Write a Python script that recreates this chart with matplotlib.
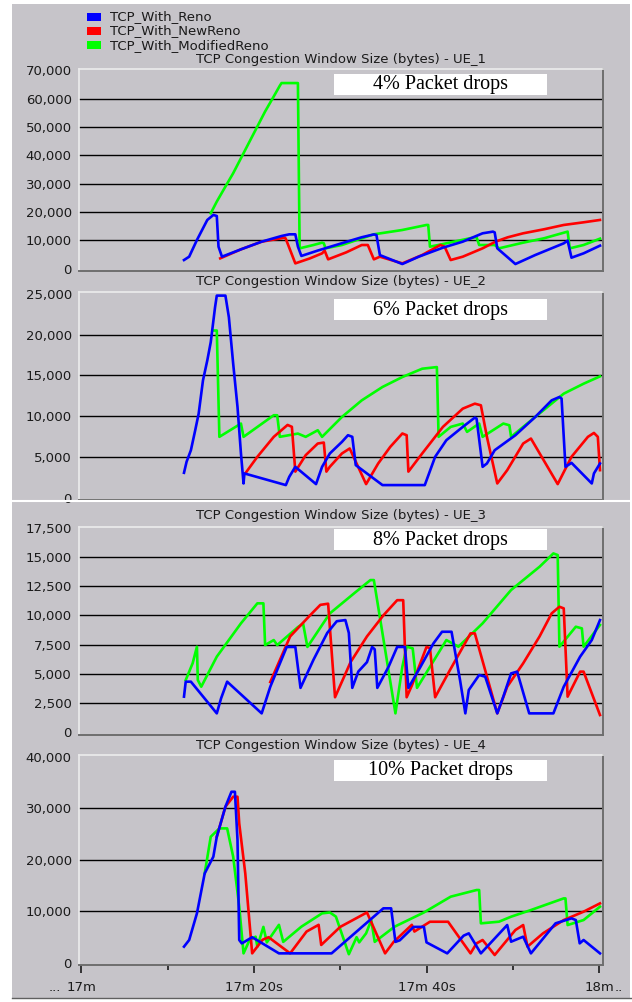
import matplotlib.pyplot as plt
from matplotlib.patches import Rectangle

# Time is in seconds after 17m; window sizes are in bytes.
SERIES_NAMES = ["TCP_With_Reno", "TCP_With_NewReno", "TCP_With_ModifiedReno"]
SERIES_COLORS = ["#0000ff", "#ff0000", "#00ff00"]
DROP_LABELS = ["4% Packet drops", "6% Packet drops", "8% Packet drops", "10% Packet drops"]
UE_NAMES = ["UE_1", "UE_2", "UE_3", "UE_4"]
Y_TICKS = [
    [0, 10000, 20000, 30000, 40000, 50000, 60000, 70000],
    [0, 5000, 10000, 15000, 20000, 25000],
    [0, 2500, 5000, 7500, 10000, 12500, 15000, 17500],
    [0, 10000, 20000, 30000, 40000],
]
Y_LIMITS = [(-810, 70460), (-280, 25280), (-230, 17585), (-290, 40330)]
X_TICKS = [0, 20, 40, 60]
X_MINOR = [10, 30, 50]
X_LABELS = ["17m", "17m 20s", "17m 40s", "18m"]

# UE_1, 4% drops
UE1_RENO_T = [11.9, 12.5, 13.4, 14.6, 15.3, 15.7, 15.9, 16.3, 18.5, 20.9, 23.2, 24.1, 24.8, 25.1, 25.5,
              27.4, 30.2, 32.5, 33.9, 34.2, 34.6, 37.2, 39.1, 41.9, 44.2, 46.5, 47.7, 47.9, 48.2,
              50.3, 52.6, 55.9, 56.35, 56.8, 58.2, 60.1]
UE1_RENO_W = [3060, 4240, 10130, 17200, 18970, 18600, 7770, 4240, 6830, 9540, 11540, 12130, 12130, 7800, 4500,
              6400, 9000, 11100, 12100, 11900, 4800, 1650, 4240, 7420, 9540, 12490, 13080, 12800, 7200,
              1650, 4830, 8950, 9900, 3890, 5420, 8130]
UE1_NEWRENO_T = [16.1, 18.5, 20.9, 23.6, 23.7, 24.8, 26.5, 27.9, 28.2, 28.6, 30.7, 32.5, 33.2, 33.9, 34.6,
                 37.2, 39.5, 41.6, 42.1, 42.8, 44.2, 46.5, 48.0, 49.4, 51.2, 53.6, 55.9, 58.2, 60.1]
UE1_NEWRENO_W = [3650, 6830, 9540, 10960, 10500, 1880, 3650, 5420, 6360, 3300, 5770, 8360, 8360, 3300, 4240,
                 1880, 4830, 8360, 7770, 3060, 4240, 7190, 9540, 11070, 12490, 13900, 15430, 16370, 17200]
UE1_MODRENO_T = [15.0, 15.7, 16.7, 17.6, 18.5, 19.5, 20.4, 21.3, 22.3, 23.0, 23.2, 25.1, 25.2, 25.3, 26.9,
                 27.9, 28.1, 28.3, 30.2, 32.5, 33.9, 37.2, 40.0, 40.2, 40.4, 41.9, 44.2, 45.6, 45.8, 46.1,
                 47.9, 48.4, 51.2, 53.6, 56.35, 56.6, 58.2, 60.1]
UE1_MODRENO_W = [19550, 23680, 28980, 33690, 38990, 44880, 50180, 55480, 60780, 64550, 65500, 65500, 36050, 7190, 8360,
                 9190, 8950, 7190, 8360, 10720, 12130, 13660, 15430, 15430, 7770, 8700, 10200, 11100, 11100, 8360,
                 8360, 7190, 9190, 10720, 13080, 7190, 8360, 10600]

# UE_2, 6% drops
UE2_RENO_T = [11.9, 12.2, 12.7, 13.2, 13.6, 14.1, 14.6, 15.0, 15.5, 15.7, 16.7, 17.1, 17.6, 18.1, 18.5,
              18.8, 18.9, 23.7, 24.1, 24.8, 27.2, 27.9, 28.8, 30.2, 30.9, 31.4, 31.8, 34.9, 39.8, 41.0,
              42.3, 44.2, 45.6, 45.8, 46.5, 47.0, 47.9, 50.3, 52.6, 54.5, 55.4, 55.65, 56.1, 56.8, 59.15,
              59.4, 60.1]
UE2_RENO_W = [3060, 4410, 5830, 8280, 10320, 14400, 16850, 19090, 23380, 24800, 24800, 22150, 16440, 11140, 5430,
              1750, 2980, 1550, 2570, 3790, 1670, 3790, 5430, 6850, 7670, 7470, 4000, 1550, 1550, 5020,
              7060, 8690, 9830, 9710, 3790, 4200, 5830, 7670, 9910, 11950, 12360, 12160, 3790, 4280, 1750,
              2980, 4200]
UE2_NEWRENO_T = [19.0, 20.4, 22.3, 23.9, 24.4, 24.8, 26.0, 27.4, 28.1, 28.4, 28.8, 30.2, 31.1, 33.0, 34.4,
                 35.8, 37.2, 37.7, 37.9, 39.5, 41.9, 44.2, 45.6, 46.3, 47.0, 48.2, 49.35, 51.2, 52.1, 55.2,
                 56.8, 58.7, 59.4, 59.85, 60.1]
UE2_NEWRENO_W = [2980, 5020, 7470, 8930, 8700, 3200, 5220, 6650, 6770, 3200, 3800, 5430, 6040, 1670, 4200,
                 6240, 7880, 7670, 3200, 5430, 8690, 10930, 11540, 11340, 7470, 1750, 3380, 6650, 7260, 1670,
                 5020, 7470, 7950, 7470, 3380]
UE2_MODRENO_T = [15.3, 15.7, 16.0, 18.5, 18.8, 22.3, 22.7, 23.0, 25.1, 26.0, 27.4, 27.9, 30.2, 32.5, 34.9,
                 37.2, 39.5, 41.2, 41.4, 42.8, 44.2, 44.7, 46.1, 46.5, 48.9, 49.6, 49.8, 52.6, 55.9, 58.2,
                 60.1]
UE2_MODRENO_W = [20520, 20520, 7470, 9100, 7470, 10120, 10120, 7470, 7870, 7470, 8280, 7470, 9910, 11950, 13590,
                 14810, 15830, 16030, 7470, 8690, 9100, 8080, 9100, 7470, 9100, 8890, 7470, 9910, 12770, 13990,
                 14890]

# UE_3, 8% drops
UE3_RENO_T = [11.9, 12.1, 12.7, 15.7, 16.2, 16.9, 20.9, 21.9, 23.8, 24.8, 25.4, 26.9, 28.5, 29.6, 30.6,
              31.0, 31.4, 32.1, 33.1, 33.7, 34.0, 34.3, 35.6, 36.6, 37.5, 37.9, 39.3, 40.8, 41.8, 42.9,
              43.9, 44.5, 44.9, 46.1, 46.8, 48.2, 48.9, 49.8, 50.5, 51.9, 54.7, 55.9, 57.8, 59.15, 60.1]
UE3_RENO_W = [3050, 4330, 4330, 1620, 2910, 4330, 1620, 3900, 7300, 7300, 3800, 6200, 8500, 9500, 9600,
              8500, 3800, 5200, 6000, 7300, 7100, 3800, 5600, 7300, 7300, 3800, 5600, 7600, 8600, 8600,
              4400, 1620, 3620, 4900, 4760, 1620, 3050, 5040, 5190, 1620, 1620, 3900, 6470, 7890, 9600]
UE3_NEWRENO_T = [21.9, 24.2, 26.5, 27.7, 28.6, 29.4, 31.2, 33.1, 35.0, 36.6, 37.3, 37.7, 38.3, 40.0, 40.4,
                 41.0, 42.7, 45.1, 45.6, 48.2, 49.35, 51.2, 53.1, 54.5, 55.4, 55.9, 56.35, 57.8, 58.2, 60.1]
UE3_NEWRENO_W = [4300, 8200, 10000, 10900, 11000, 3000, 6000, 8200, 10000, 11300, 11300, 3000, 4000, 7300, 7200,
                 3000, 5300, 8460, 8460, 1620, 3900, 5900, 8200, 10170, 10740, 10600, 3050, 5190, 5190, 1480]
UE3_MODRENO_T = [12.1, 12.9, 13.4, 13.5, 13.9, 15.7, 18.5, 20.4, 21.1, 21.3, 22.3, 22.7, 25.1, 25.7, 26.2,
                 28.8, 31.6, 33.5, 33.9, 36.4, 37.2, 37.7, 38.4, 38.9, 40.4, 42.3, 43.7, 46.5, 49.8, 53.1,
                 54.7, 55.2, 55.4, 57.3, 58.0, 58.2, 60.1]
UE3_MODRENO_W = [4470, 5900, 7320, 4470, 3900, 6470, 9320, 11030, 11030, 7460, 7890, 7460, 9000, 9300, 7300,
                 10170, 11880, 13020, 13020, 1620, 5600, 7320, 7180, 3800, 5600, 7890, 7320, 9320, 12170, 14160,
                 15300, 15160, 7320, 9030, 8890, 7320, 9180]

# UE_4, 10% drops
UE4_RENO_T = [11.9, 12.5, 13.4, 14.3, 15.3, 15.7, 16.7, 17.4, 17.8, 18.1, 18.3, 18.6, 19.8, 22.9, 29.0,
              35.0, 35.9, 36.4, 36.9, 38.5, 39.7, 40.0, 42.4, 44.3, 44.9, 46.3, 49.35, 49.8, 51.2, 52.1,
              54.95, 56.8, 57.3, 57.75, 58.2, 60.1]
UE4_RENO_W = [3170, 4460, 9630, 17380, 20610, 24480, 30300, 33200, 33200, 23840, 4460, 3800, 5000, 1870, 1870,
              10600, 10600, 4100, 4400, 7000, 7000, 4000, 1870, 5300, 5750, 1870, 7360, 4130, 5100, 1870,
              7690, 8660, 8330, 3810, 4460, 1870]
UE4_NEWRENO_T = [15.7, 16.7, 17.6, 18.1, 18.3, 19.0, 19.8, 21.0, 21.7, 24.2, 26.1, 27.5, 27.8, 30.0, 33.1,
                 35.2, 36.2, 38.3, 38.6, 40.4, 42.5, 45.1, 45.8, 46.5, 47.9, 50.3, 51.2, 51.7, 53.5,
                 55.9, 58.2, 60.1]
UE4_NEWRENO_W = [24480, 30300, 32240, 32240, 27070, 17380, 1870, 4500, 5000, 1870, 6100, 7400, 3500, 7000, 9800,
                 1870, 4100, 7400, 6100, 8000, 8000, 1870, 3810, 4460, 1550, 6400, 7360, 3170, 5750,
                 8330, 9950, 11560]
UE4_MODRENO_T = [14.3, 15.0, 16.0, 16.9, 17.6, 18.3, 18.8, 19.5, 20.2, 20.4, 21.1, 21.5, 22.9, 23.4, 25.5,
                 27.9, 28.8, 29.5, 31.0, 31.9, 32.2, 33.0, 33.6, 34.0, 36.3, 39.7, 42.8, 45.8, 46.1, 46.3,
                 48.4, 49.8, 52.1, 55.9, 56.1, 56.35, 58.2, 60.1]
UE4_MODRENO_W = [17380, 24480, 26100, 26100, 20610, 10920, 1870, 4460, 5100, 3170, 7000, 4000, 7400, 4100, 7040,
                 9630, 9800, 9000, 1700, 5000, 4000, 5750, 8300, 4100, 7040, 9800, 12860, 14150, 14150, 7690,
                 8010, 8980, 10270, 12530, 12530, 7360, 8330, 10920]

PANEL_SERIES = [
    [(UE1_RENO_T, UE1_RENO_W), (UE1_NEWRENO_T, UE1_NEWRENO_W), (UE1_MODRENO_T, UE1_MODRENO_W)],
    [(UE2_RENO_T, UE2_RENO_W), (UE2_NEWRENO_T, UE2_NEWRENO_W), (UE2_MODRENO_T, UE2_MODRENO_W)],
    [(UE3_RENO_T, UE3_RENO_W), (UE3_NEWRENO_T, UE3_NEWRENO_W), (UE3_MODRENO_T, UE3_MODRENO_W)],
    [(UE4_RENO_T, UE4_RENO_W), (UE4_NEWRENO_T, UE4_NEWRENO_W), (UE4_MODRENO_T, UE4_MODRENO_W)],
]

W, H = 632, 1002
BG = "#c6c4c9"
TXT = "#1a1a1a"
FS = 9.5
# plot boxes in pixels: (left, top, right, bottom)
BOXES = [(78.7, 69, 603, 271), (78.7, 291.7, 603, 500), (78.7, 526.7, 603, 735), (78.7, 755, 603, 964.5)]
TITLE_Y = [60, 282, 516, 746]
NOTE_BOXES = [74, 299, 529, 760]


def fx(px):
    return px / W


def fy(py):
    return 1 - py / H


def main():
    plt.rcParams["font.family"] = ["DejaVu Sans"]
    fig = plt.figure(figsize=(W / 100, H / 100), dpi=100, facecolor="white")

    # grey window background with a thin separator between the two screenshots
    fig.patches.append(Rectangle((fx(12), fy(998)), fx(630) - fx(12), fy(4) - fy(998),
                                 transform=fig.transFigure, facecolor=BG, edgecolor="none", zorder=-5))
    fig.add_artist(plt.Line2D([fx(12), 1], [fy(501), fy(501)], transform=fig.transFigure,
                              color="white", lw=1.5))
    fig.add_artist(plt.Line2D([fx(12), 1], [fy(998), fy(998)], transform=fig.transFigure,
                              color="#606060", lw=1.0))

    # legend
    for i, (name, color) in enumerate(zip(SERIES_NAMES, SERIES_COLORS)):
        yc = 16.7 + 14.2 * i
        fig.patches.append(Rectangle((fx(86.7), fy(yc + 3.8)), fx(14.3), 7.6 / H,
                                     transform=fig.transFigure, facecolor=color, edgecolor="none"))
        fig.text(fx(110), fy(yc), name, fontsize=FS, color=TXT, va="center", ha="left")

    for p in range(4):
        left, top, right, bottom = BOXES[p]
        ax = fig.add_axes([fx(left), fy(bottom), fx(right - left), (bottom - top) / H])
        ax.set_facecolor(BG)
        ax.set_xlim(-0.3, 60.45)
        ax.set_ylim(*Y_LIMITS[p])

        ticks = Y_TICKS[p]
        ax.set_yticks(ticks)
        ax.set_yticklabels([f"{v:,}" for v in ticks], fontsize=FS, color=TXT)
        ax.tick_params(axis="y", length=0, pad=5)
        for v in ticks[1:-1]:
            ax.axhline(v, color="black", lw=1.0, zorder=1)

        for side, color, lw in [("left", "#ececec", 1.2), ("top", "#ececec", 1.2),
                                ("right", "#6e6e6e", 1.4), ("bottom", "#6e6e6e", 1.4)]:
            ax.spines[side].set_color(color)
            ax.spines[side].set_linewidth(lw)

        # draw NewReno and ModifiedReno under Reno
        for idx in (2, 1, 0):
            t, w = PANEL_SERIES[p][idx]
            ax.plot(t, w, color=SERIES_COLORS[idx], lw=1.9, zorder=3 + (2 - idx))

        if p < 3:
            ax.set_xticks([])
        else:
            ax.set_xticks(X_TICKS)
            ax.set_xticklabels(X_LABELS, fontsize=FS, color=TXT)
            ax.set_xticks(X_MINOR, minor=True)
            ax.tick_params(axis="x", which="major", length=6, width=1.2, color=TXT, pad=6)
            ax.tick_params(axis="x", which="minor", length=3.5, width=1.2, color=TXT)
            ax.annotate("...", xy=(0, 0), xycoords=("data", "axes fraction"), xytext=(-14.5, -12),
                        textcoords="offset points", ha="right", va="top", fontsize=FS, color=TXT)
            ax.annotate("..", xy=(60, 0), xycoords=("data", "axes fraction"), xytext=(11, -12),
                        textcoords="offset points", ha="left", va="top", fontsize=FS, color=TXT)

        fig.text(fx((left + right) / 2), fy(TITLE_Y[p]),
                 f"TCP Congestion Window Size (bytes) - {UE_NAMES[p]}",
                 fontsize=FS, color=TXT, ha="center", va="center")

        # white note box with the drop rate
        nt = NOTE_BOXES[p]
        fig.patches.append(Rectangle((fx(334), fy(nt + 21)), fx(213), 21 / H,
                                     transform=fig.transFigure, facecolor="white",
                                     edgecolor="none", zorder=5))
        fig.text(fx(440), fy(nt + 11), DROP_LABELS[p], fontsize=14.5, family="Liberation Serif",
                 ha="center", va="center", zorder=6)

    fig.savefig("out.png", dpi=100, facecolor="white")


if __name__ == "__main__":
    main()
